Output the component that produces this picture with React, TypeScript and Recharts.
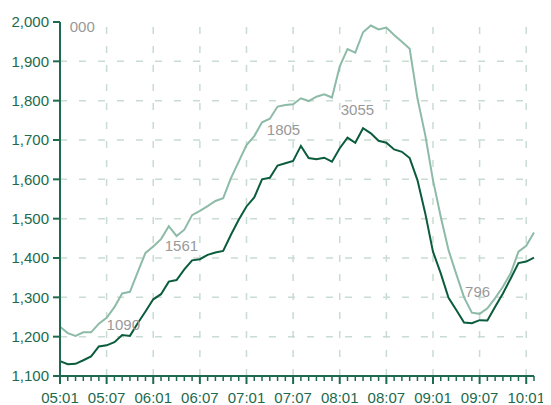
import React from 'react';
import { LineChart, Line, XAxis, YAxis, ReferenceLine, ReferenceDot } from 'recharts';

// colours
const AXIS_COLOR = '#1d6a4e';
const DARK_LINE = '#0b5c3c';
const LIGHT_LINE = '#8dbba7';
const GRID_COLOR = '#c9dcd3';
const NOTE_COLOR = '#999999';
const FONT = '"Liberation Sans", Arial, sans-serif';

// time buckets: 12 slots per hour, 05:01 .. 10:02
const hours = ['05', '06', '07', '08', '09', '10'];
const slots = ['01', '02', '03', '04', '05', '06', '07', '08', '09', '10', '11', '12'];
const times = hours.flatMap(h => slots.map(s => `${h}:${s}`)).slice(0, 62);

const darkValues = [
  1138, 1130, 1131, 1140, 1150, 1175, 1178, 1186, 1204, 1202,
  1234, 1264, 1295, 1308, 1340, 1344, 1371, 1394, 1397, 1408,
  1414, 1418, 1459, 1497, 1531, 1554, 1600, 1604, 1635, 1641,
  1647, 1685, 1654, 1651, 1655, 1645, 1679, 1706, 1693, 1730,
  1717, 1698, 1693, 1676, 1670, 1654, 1598, 1514, 1416, 1361,
  1299, 1268, 1236, 1234, 1242, 1241, 1276, 1310, 1348, 1387,
  1391, 1401,
];

const lightValues = [
  1225, 1209, 1202, 1211, 1211, 1233, 1248, 1275, 1310, 1314,
  1364, 1413, 1429, 1448, 1481, 1456, 1472, 1509, 1520, 1532,
  1545, 1552, 1603, 1645, 1687, 1710, 1745, 1754, 1785, 1789,
  1791, 1806, 1799, 1810, 1816, 1808, 1887, 1931, 1922, 1974,
  1991, 1981, 1986, 1967, 1950, 1932, 1806, 1713, 1598, 1505,
  1420, 1359, 1300, 1261, 1258, 1272, 1298, 1327, 1361, 1416,
  1431, 1465,
];

const yTicks = [1100, 1200, 1300, 1400, 1500, 1600, 1700, 1800, 1900, 2000];
const gridValues = [1200, 1300, 1400, 1500, 1600, 1700, 1800, 1900];
const majorTimes = times.filter((_, i) => i % 6 === 0 && i > 0);

// grey notes on the chart
const noteTimes = ['05:02', '05:07', '06:03', '07:04', '08:01', '09:05'];
const noteValues = [1988, 1230, 1431, 1725, 1777, 1314];
const noteTexts = ['000', '1090', '1561', '1805', '3055', '796'];
const noteShift = [2, 0, -4, -3, 1, 1];

const data = times.map((time, i) => ({ time, dark: darkValues[i], light: lightValues[i] }));

const TimeTick = (props: any) => {
  const { x, y, payload } = props;
  const idx = times.indexOf(payload.value);
  const major = idx % 6 === 0;
  return (
    <g>
      <line x1={x} x2={x} y1={y} y2={y + (major ? 8 : 5)} stroke={AXIS_COLOR} strokeWidth={major ? 2 : 1.5} />
      {major && (
        <text x={x} y={y + 22} dy="0.35em" textAnchor="middle" fill={AXIS_COLOR} fontSize={15} fontFamily={FONT}>
          {payload.value}
        </text>
      )}
    </g>
  );
};

export default function App() {
  return (
    <div>
      {/* the last time label sticks out past the right edge of the svg */}
      <style>{`.recharts-surface { overflow: visible; }`}</style>
      <LineChart width={535} height={397} data={data} margin={{ top: 14, right: 9, bottom: 0, left: 0 }}>
        {majorTimes.map(t => (
          <ReferenceLine key={`v-${t}`} x={t} stroke={GRID_COLOR} strokeWidth={1.5} strokeDasharray="7 12" />
        ))}
        {gridValues.map(v => (
          <ReferenceLine key={`h-${v}`} y={v} stroke={GRID_COLOR} strokeWidth={1.5} strokeDasharray="7 12" />
        ))}
        <XAxis
          dataKey="time"
          interval={0}
          height={29}
          tickSize={0}
          tickMargin={0}
          tickLine={false}
          axisLine={{ stroke: AXIS_COLOR, strokeWidth: 2 }}
          tick={<TimeTick />}
        />
        <YAxis
          domain={[1100, 2000]}
          ticks={yTicks}
          width={52}
          tickSize={7}
          tickMargin={4}
          tickFormatter={(v: number) => v.toLocaleString('en-US')}
          tick={{ fill: AXIS_COLOR, fontSize: 15, fontFamily: FONT }}
          tickLine={{ stroke: AXIS_COLOR, strokeWidth: 2 }}
          axisLine={{ stroke: AXIS_COLOR, strokeWidth: 2 }}
        />
        <Line type="linear" dataKey="light" stroke={LIGHT_LINE} strokeWidth={2} dot={false} isAnimationActive={false} />
        <Line type="linear" dataKey="dark" stroke={DARK_LINE} strokeWidth={2} dot={false} isAnimationActive={false} />
        {noteTimes.map((t, i) => (
          <ReferenceDot
            key={`n-${i}`}
            x={t}
            y={noteValues[i]}
            shape={(p: any) => (
              <text
                x={p.cx + noteShift[i]}
                y={p.cy}
                dy="0.35em"
                textAnchor="start"
                fill={NOTE_COLOR}
                fontSize={15}
                fontFamily={FONT}
              >
                {noteTexts[i]}
              </text>
            )}
          />
        ))}
      </LineChart>
    </div>
  );
}
